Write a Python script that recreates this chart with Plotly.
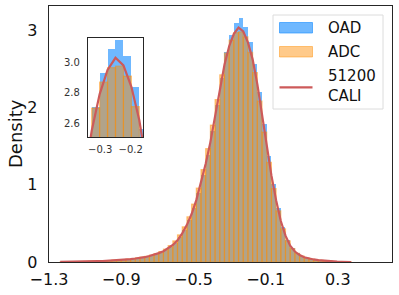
import numpy as np
import plotly.graph_objects as go

# ---------------- data ----------------
bin_left = -1.238
bin_width = 0.026

adc_density = [0.002, 0.003, 0.004, 0.005, 0.006, 0.007, 0.009, 0.011, 0.013, 0.016,
               0.019, 0.023, 0.027, 0.032, 0.038, 0.045, 0.053, 0.062, 0.074, 0.090,
               0.110, 0.135, 0.168, 0.212, 0.272, 0.350, 0.455, 0.585, 0.750, 0.955,
               1.195, 1.465, 1.770, 2.100, 2.420, 2.700, 2.870, 2.965, 2.975, 2.910,
               2.710, 2.450, 2.080, 1.680, 1.290, 0.950, 0.660, 0.430, 0.272, 0.172,
               0.112, 0.076, 0.053, 0.039, 0.028, 0.020, 0.014, 0.009, 0.005, 0.003,
               0.0015, 0.0005]

oad_density = [0.002, 0.002, 0.003, 0.004, 0.005, 0.007, 0.008, 0.010, 0.012, 0.014,
               0.017, 0.020, 0.024, 0.028, 0.034, 0.040, 0.047, 0.055, 0.066, 0.080,
               0.098, 0.120, 0.150, 0.192, 0.245, 0.318, 0.418, 0.545, 0.700, 0.895,
               1.125, 1.390, 1.690, 2.030, 2.380, 2.710, 2.930, 3.090, 3.150, 3.040,
               2.840, 2.560, 2.200, 1.780, 1.370, 1.010, 0.700, 0.455, 0.285, 0.178,
               0.115, 0.078, 0.055, 0.040, 0.029, 0.021, 0.014, 0.009, 0.006, 0.003,
               0.0015, 0.0005]

cali_density = [0.002, 0.002, 0.003, 0.004, 0.005, 0.006, 0.008, 0.009, 0.011, 0.013,
                0.016, 0.019, 0.023, 0.027, 0.032, 0.038, 0.045, 0.052, 0.062, 0.078,
                0.095, 0.115, 0.14, 0.175, 0.22, 0.28, 0.37, 0.48, 0.62, 0.80,
                1.02, 1.27, 1.55, 1.88, 2.22, 2.55, 2.79, 2.95, 3.03, 2.98,
                2.84, 2.62, 2.30, 1.90, 1.48, 1.12, 0.80, 0.53, 0.34, 0.21,
                0.135, 0.09, 0.062, 0.045, 0.033, 0.024, 0.017, 0.011, 0.007, 0.004,
                0.002, 0.001, 0.0]

series_names = ["OAD", "ADC", "51200<br>CALI"]
x_tickvals = [-1.3, -0.9, -0.5, -0.1, 0.3]
x_ticktext = ["\u22121.3", "\u22120.9", "\u22120.5", "\u22120.1", "0.3"]
y_tickvals = [0, 1, 2, 3]
inset_x_tickvals = [-0.3, -0.2]
inset_x_ticktext = ["\u22120.3", "\u22120.2"]
inset_y_tickvals = [2.6, 2.8, 3.0]
inset_y_ticktext = ["2.6", "2.8", "3.0"]

# ---------------- derived positions ----------------
n_bins = len(adc_density)
centers = bin_left + bin_width * (np.arange(n_bins) + 0.5)
kde_x = bin_left + bin_width * np.arange(len(cali_density))

BLUE = "rgba(30,144,255,0.64)"
ORANGE = "rgba(255,140,0,0.46)"
RED = "rgb(205,90,90)"
FONT = "DejaVu Sans"

fig = go.Figure()

for xa, ya in [("x", "y"), ("x2", "y2")]:
    fig.add_trace(go.Bar(x=centers, y=oad_density, width=bin_width,
                         marker=dict(color=BLUE, line=dict(width=0)),
                         xaxis=xa, yaxis=ya, showlegend=False, name="OAD"))
    fig.add_trace(go.Bar(x=centers, y=adc_density, width=bin_width,
                         marker=dict(color=ORANGE, line=dict(color=ORANGE, width=1.2)),
                         xaxis=xa, yaxis=ya, showlegend=False, name="ADC"))
    fig.add_trace(go.Scatter(x=kde_x, y=cali_density, mode="lines",
                             line=dict(color=RED, width=2.2),
                             xaxis=xa, yaxis=ya, showlegend=False, name="51200 CALI"))

axis_line = "#262626"
fig.update_layout(
    width=399, height=295,
    margin=dict(l=49, r=7, t=6, b=33),
    paper_bgcolor="white", plot_bgcolor="white",
    barmode="overlay", bargap=0,
    font=dict(family=FONT, size=16, color="#111"),
    xaxis=dict(range=[-1.3, 0.6], tickvals=x_tickvals, ticktext=x_ticktext,
               showgrid=False, zeroline=False, showline=True, mirror=True,
               linecolor=axis_line, linewidth=1.3,
               ticks="outside", ticklen=2, tickcolor="rgba(0,0,0,0)",
               tickfont=dict(size=16, family=FONT, color="#111")),
    yaxis=dict(range=[0, 3.31], tickvals=y_tickvals,
               showgrid=False, zeroline=False, showline=True, mirror=True,
               linecolor=axis_line, linewidth=1.3,
               ticks="outside", ticklen=7, tickcolor="rgba(0,0,0,0)",
               tickfont=dict(size=16, family=FONT, color="#111")),
    xaxis2=dict(domain=[0.1137, 0.274], anchor="y2", range=[-0.34, -0.16],
                tickvals=inset_x_tickvals, ticktext=inset_x_ticktext,
                showgrid=False, zeroline=False, showline=True, mirror=True,
                linecolor=axis_line, linewidth=1.2,
                ticks="outside", ticklen=3, tickcolor="rgba(0,0,0,0)",
                tickfont=dict(size=10, family=FONT, color="#333")),
    yaxis2=dict(domain=[0.488, 0.875], anchor="x2", range=[2.51, 3.16],
                tickvals=inset_y_tickvals, ticktext=inset_y_ticktext,
                showgrid=False, zeroline=False, showline=True, mirror=True,
                linecolor=axis_line, linewidth=1.2,
                ticks="outside", ticklen=5, tickcolor="rgba(0,0,0,0)",
                tickfont=dict(size=10, family=FONT, color="#333")),
    showlegend=False,
)

# y-axis title
fig.add_annotation(text="Density", x=(15 - 49) / 343.0, y=0.5, xref="paper", yref="paper",
                   textangle=-90, showarrow=False, xanchor="center", yanchor="middle",
                   font=dict(size=18, family=FONT, color="#111"))

# manual legend (matplotlib style)
def px_x(p):
    return (p - 49) / 343.0

def px_y(p):
    return (262 - p) / 256.0

fig.add_shape(type="rect", xref="paper", yref="paper",
              x0=px_x(273), x1=px_x(383), y0=px_y(109), y1=px_y(15),
              line=dict(color="#dcdcdc", width=1), fillcolor="rgba(255,255,255,0.85)",
              layer="above")
fig.add_shape(type="rect", xref="paper", yref="paper",
              x0=px_x(279.5), x1=px_x(312.5), y0=px_y(33), y1=px_y(22.5),
              line=dict(color=BLUE, width=1), fillcolor=BLUE, layer="above")
fig.add_shape(type="rect", xref="paper", yref="paper",
              x0=px_x(279.5), x1=px_x(312.5), y0=px_y(57), y1=px_y(46.5),
              line=dict(color=ORANGE, width=1), fillcolor=ORANGE, layer="above")
fig.add_shape(type="line", xref="paper", yref="paper",
              x0=px_x(279.5), x1=px_x(312.5), y0=px_y(87.3), y1=px_y(87.3),
              line=dict(color=RED, width=2.2), layer="above")
for name, py in zip(series_names, [28.3, 52.3, 86.0]):
    fig.add_annotation(text=name, x=px_x(326), y=px_y(py), xref="paper", yref="paper",
                       showarrow=False, xanchor="left", yanchor="middle", align="left",
                       font=dict(size=15, family=FONT, color="#111"))

fig.write_html("out.html",
               config={"displayModeBar": False, "staticPlot": True},
               post_script="document.body.style.margin='0';document.body.style.overflow='hidden';")
